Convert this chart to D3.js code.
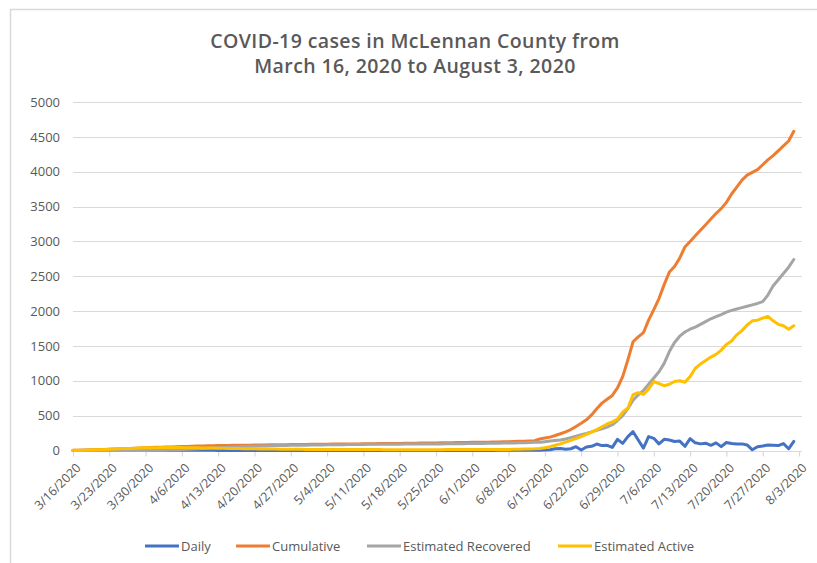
<!DOCTYPE html>
<html>
<head>
<meta charset="utf-8">
<script src="https://cdn.jsdelivr.net/npm/d3@7"></script>
<style>
  html, body { margin: 0; padding: 0; background: #fff; }
  svg { display: block; }
  text { font-family: "Open Sans", "Liberation Sans", sans-serif; fill: #595959; }
</style>
</head>
<body>
<svg id="chart" width="817" height="563"></svg>
<script>
// ---------- data ----------
const startDate = "2020-03-16";
const endDate = "2020-08-03";

const tickLabels = ["3/16/2020","3/23/2020","3/30/2020","4/6/2020","4/13/2020","4/20/2020","4/27/2020",
  "5/4/2020","5/11/2020","5/18/2020","5/25/2020","6/1/2020","6/8/2020","6/15/2020","6/22/2020",
  "6/29/2020","7/6/2020","7/13/2020","7/20/2020","7/27/2020","8/3/2020"];

const yTicks = [0,500,1000,1500,2000,2500,3000,3500,4000,4500,5000];

const seriesNames = ["Daily","Cumulative","Estimated Recovered","Estimated Active"];

const daily = [
  1,1,2,2,2,3,3,3,3,3, 3,3,3,3,3,3,3,2,2,3,
  2,2,2,2,2,2,2,2,1,2, 1,1,1,1,1,1,1,1,1,1,
  1,1,1,0,1,1,1,1,1,1, 0,1,1,1,0,1,1,1,1,1,
  0,1,1,1,1,1,1,1,1,1, 1,1,1,1,1,1,2,1,1,1,
  2,1,2,2,2,2,3,3,4,5,
  5,8,10,25,30,17,25,55,7,50,
  60,93,70,75,45,160,103,200,270,150,
  35,200,175,95,160,150,130,135,60,170,
  110,95,105,75,110,55,115,100,95,95,
  80,10,55,65,80,75,70,100,25,130
];

const cumulative = [
  2,3,5,7,9,12,15,18,21,24, 27,30,33,36,39,42,45,48,50,52,
  55,57,59,61,63,65,67,69,70,72, 73,74,75,76,77,78,79,80,81,82,
  83,84,85,86,86,87,88,89,90,91, 92,92,93,94,95,95,96,97,98,99,
  100,100,101,102,103,104,105,106,107,108, 109,110,111,112,113,114,115,117,118,119,
  120,122,123,125,127,129,131,134,137,141,
  165,178,192,215,240,268,300,345,390,440,
  510,600,680,735,790,900,1060,1300,1560,1630,
  1690,1870,2020,2180,2380,2560,2640,2760,2920,3000,
  3080,3160,3240,3320,3400,3470,3560,3680,3780,3880,
  3950,3990,4030,4100,4170,4230,4300,4370,4440,4580
];

const recovered = [
  0,0,0,0,0,0,0,0,0,0, 0,0,0,0,1,2,3,5,7,9,
  11,14,17,20,24,28,32,36,40,44, 48,51,54,57,60,62,64,66,68,70,
  72,73,74,75,76,77,78,79,80,81, 82,83,84,85,86,86,87,88,88,89,
  90,90,91,91,92,92,93,93,94,94, 95,95,96,96,97,98,99,100,101,102,
  103,104,105,106,107,108,110,112,114,117,
  120,127,135,143,152,165,185,205,225,245,
  268,290,310,335,370,430,500,600,720,800,
  860,950,1040,1130,1250,1420,1550,1640,1700,1740,
  1770,1810,1850,1890,1920,1950,1985,2010,2030,2050,
  2070,2090,2110,2135,2230,2360,2450,2540,2630,2740
];

const active = [
  2,3,5,7,9,12,15,18,21,24, 27,30,33,36,38,40,41,42,42,42,
  43,42,41,40,38,37,36,35,33,31, 30,28,27,26,25,24,23,22,21,20,
  19,18,18,17,17,16,16,15,15,15, 14,14,14,13,13,13,13,13,13,13,
  12,12,12,12,12,12,12,12,12,12, 12,12,13,13,13,13,13,13,13,13,
  14,14,15,15,16,17,18,20,22,25,
  30,40,55,75,95,120,145,170,200,230,
  265,300,340,380,410,450,550,610,800,830,
  805,880,990,960,930,950,990,1000,980,1060,
  1180,1240,1290,1340,1380,1440,1520,1570,1660,1720,
  1800,1860,1870,1900,1925,1860,1810,1790,1740,1790
];

const seriesValues = [daily, cumulative, recovered, active];
const colors = ["#4472C4","#ED7D31","#A5A5A5","#FFC000"];

// ---------- layout ----------
const svg = d3.select("#chart");
const W = 817, H = 563;
const plot = { left: 73, right: 799, top: 102, bottom: 450.5 };

// chart frame
svg.append("rect")
  .attr("x", 10.5).attr("y", 9.5)
  .attr("width", W + 20).attr("height", H + 20)
  .attr("fill", "#fff")
  .attr("stroke", "#d9d9d9").attr("stroke-width", 1.5);

const dates = d3.utcDay.range(new Date(startDate + "T00:00:00Z"),
  d3.utcDay.offset(new Date(endDate + "T00:00:00Z"), 1));
const weekDates = dates.filter((d, i) => i % 7 === 0);

const x = d3.scaleUtc()
  .domain([dates[0], dates[dates.length - 1]])
  .range([plot.left, plot.right]);
const y = d3.scaleLinear().domain([0, 5000]).range([plot.bottom, plot.top]);

// title
const title = svg.append("text")
  .attr("text-anchor", "middle")
  .attr("x", 415)
  .style("font-size", "19.5px")
  .style("font-weight", "600")
  .style("letter-spacing", "0.4px")
  .style("fill", "#595959");
title.append("tspan").attr("x", 415).attr("y", 47.5).text("COVID-19 cases in McLennan County from");
title.append("tspan").attr("x", 415).attr("y", 72.5).text("March 16, 2020 to August 3, 2020");

// gridlines
svg.append("g")
  .selectAll("line")
  .data(yTicks.filter(v => v > 0))
  .join("line")
  .attr("x1", plot.left).attr("x2", plot.right + 3)
  .attr("y1", d => Math.round(y(d)) + 0.5).attr("y2", d => Math.round(y(d)) + 0.5)
  .attr("stroke", "#d9d9d9").attr("stroke-width", 1.2);

// y axis labels
const yAxis = d3.axisLeft(y).tickValues(yTicks).tickFormat(d3.format("d")).tickSize(0).tickPadding(0);
const gy = svg.append("g").attr("transform", `translate(${plot.left - 13},0)`).call(yAxis);
gy.select(".domain").remove();
gy.selectAll("text").style("font-size", "13px").style("fill", "#595959").style("font-family", "\"Open Sans\", sans-serif");

// x axis
const xAxis = d3.axisBottom(x)
  .tickValues(weekDates)
  .tickFormat((d, i) => tickLabels[i])
  .tickSize(5)
  .tickSizeOuter(0);
const gx = svg.append("g").attr("transform", `translate(0,${Math.round(plot.bottom) + 0.5})`).call(xAxis);
gx.select(".domain").attr("stroke", "#d9d9d9").attr("stroke-width", 1.2)
  .attr("d", `M${plot.left},0H${plot.right + 3}`);
gx.selectAll(".tick line").attr("stroke", "#d9d9d9").attr("stroke-width", 1.2);
gx.selectAll(".tick text")
  .style("font-size", "12.5px")
  .style("fill", "#595959")
  .style("font-family", "\"Open Sans\", sans-serif")
  .attr("text-anchor", "end")
  .attr("dy", "0.35em")
  .attr("transform", "translate(5,14) rotate(-45)")
  .attr("y", 0).attr("x", 0);

// lines
const line = d3.line()
  .x((d, i) => x(dates[i]))
  .y(d => y(d))
  .curve(d3.curveLinear);

svg.append("g")
  .selectAll("path")
  .data(seriesValues)
  .join("path")
  .attr("d", d => line(d))
  .attr("fill", "none")
  .attr("stroke", (d, i) => colors[i])
  .attr("stroke-width", 3)
  .attr("stroke-linejoin", "round")
  .attr("stroke-linecap", "round");

// legend
const legendX = [145, 236, 367, 558];
const lg = svg.append("g");
seriesNames.forEach((name, i) => {
  const g = lg.append("g").attr("transform", `translate(${legendX[i]},546)`);
  g.append("line").attr("x1", 0).attr("x2", 34).attr("y1", 0).attr("y2", 0)
    .attr("stroke", colors[i]).attr("stroke-width", 3);
  g.append("text").attr("x", 36).attr("y", 0).attr("dy", "0.35em")
    .style("font-size", "13px").text(name);
});
</script>
</body>
</html>
